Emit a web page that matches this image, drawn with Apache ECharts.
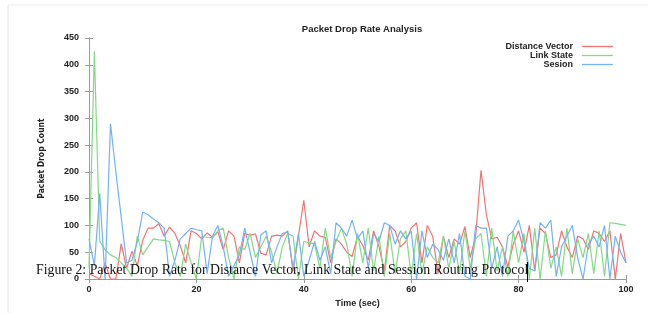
<!DOCTYPE html>
<html>
<head>
<meta charset="utf-8">
<script src="https://cdn.jsdelivr.net/npm/echarts@6/dist/echarts.min.js"></script>
<style>
  html, body { margin: 0; padding: 0; background: #fff; }
  #main { width: 648px; height: 313px; }
</style>
</head>
<body>
<div id="main"></div>
<script>
// values, one per second (0..100)
var distanceVector = [
  10, 5, 0, 30, 0, 0, 66, 20, 52, 25,
  72, 95, 95, 103, 80, 97, 85, 62, 30, 90,
  85, 75, 86, 78, 88, 55, 90, 80, 30, 85,
  82, 84, 48, 45, 80, 82, 80, 90, 15, 80,
  147, 60, 90, 80, 78, 30, 75, 65, 50, 42,
  80, 62, 35, 90, 60, 15, 100, 90, 60, 70,
  95, 105, 30, 100, 80, 10, 80, 40, 75, 65,
  98, 40, 80, 203, 120, 75, 78, 60, 22, 65,
  90, 50, 100, 15, 95, 85, 40, 45, 90, 60,
  40, 80, 75, 55, 90, 85, 70, 90, 0, 85,
  30
]
var linkState = [
  20, 425, 70, 55, 45, 40, 30, 20, 5, 80,
  45, 60, 75, 73, 72, 70, 30, 5, 65, 30,
  0, 80, 78, 77, 90, 95, 40, 0, 60, 55,
  85, 40, 60, 80, 50, 10, 60, 85, 80, 0,
  70, 68, 65, 20, 95, 40, 70, 95, 65, 5,
  85, 30, 95, 15, 80, 5, 85, 10, 75, 90,
  5, 85, 10, 60, 40, 30, 80, 20, 70, 10,
  90, 20, 75, 85, 5, 95, 15, 60, 5, 90,
  30, 85, 0, 95, 0, 90, 20, 60, 5, 95,
  10, 75, 40, 85, 10, 90, 5, 105, 104, 102,
  100
]
var sesion = [
  75, 25, 160, 0, 290, 200, 115, 30, 35, 70,
  125, 120, 112, 105, 95, 5, 35, 75, 85, 95,
  92, 90, 10, 80, 100, 60, 5, 25, 45, 95,
  50, 5, 82, 90, 30, 60, 85, 88, 20, 85,
  5, 35, 70, 35, 60, 10, 105, 95, 80, 110,
  75, 90, 20, 85, 70, 105, 100, 65, 90, 75,
  90, 0, 90, 40, 65, 55, 35, 75, 30, 85,
  5, 0, 100, 95, 95, 20, 60, 5, 80, 90,
  110, 70, 20, 15, 105, 95, 110, 5, 60, 80,
  100, 40, 0, 65, 80, 60, 100, 0, 80, 50,
  30
]
var seriesNames = ['Distance Vector', 'Link State', 'Sesion']
var seriesColors = ['#f47272', '#84d984', '#72b2f7']

function pairs (arr) {
  return arr.map(function (v, i) { return [i, v] })
}

var chart = echarts.init(document.getElementById('main'))

var axisBase = {
  type: 'value',
  axisLine: { show: true, lineStyle: { color: '#9a9a9a', width: 1 } },
  axisTick: { show: true, inside: true, length: 4, lineStyle: { color: '#9a9a9a' } },
  splitLine: { show: false },
  axisLabel: { color: '#222', fontFamily: 'Liberation Sans', fontWeight: 'bold', fontSize: 9 }
}

var option = {
  animation: false,
  backgroundColor: '#fff',
  title: {
    text: 'Packet Drop Rate Analysis',
    left: 357,
    textAlign: 'center',
    top: 19,
    textStyle: { fontFamily: 'Liberation Sans', fontWeight: 'bold', fontSize: 9.5, color: '#222' }
  },
  legend: {
    orient: 'vertical',
    right: 30,
    top: 37,
    align: 'right',
    itemGap: 0,
    itemWidth: 31,
    itemHeight: 1.3,
    icon: 'rect',
    textStyle: { fontFamily: 'Liberation Sans', fontWeight: 'bold', fontSize: 9, color: '#222', padding: [0, 4, 0, 0], lineHeight: 8.6 },
    data: seriesNames
  },
  grid: { left: 89, right: 22, top: 38, bottom: 33, containLabel: false },
  xAxis: [
    Object.assign({}, axisBase, {
      min: 0, max: 100, interval: 20,
      name: 'Time (sec)', nameLocation: 'middle', nameGap: 20,
      nameTextStyle: { fontFamily: 'Liberation Sans', fontWeight: 'bold', fontSize: 9, color: '#222' },
      axisLabel: Object.assign({}, axisBase.axisLabel, { margin: 6 })
    }),
    Object.assign({}, axisBase, {
      position: 'top', min: 0, max: 100, interval: 20,
      axisLabel: { show: false }
    })
  ],
  yAxis: [
    Object.assign({}, axisBase, {
      min: 0, max: 450, interval: 50,
      name: 'Packet Drop Count', nameLocation: 'middle', nameGap: 43,
      nameTextStyle: { fontFamily: '"DejaVu Sans Condensed", "Liberation Sans"', fontWeight: 'bold', fontSize: 8.5, color: '#222' },
      axisLabel: Object.assign({}, axisBase.axisLabel, { margin: 10 })
    }),
    Object.assign({}, axisBase, {
      position: 'right', min: 0, max: 450, interval: 50,
      axisLabel: { show: false }
    })
  ],
  series: [
    { name: seriesNames[0], type: 'line', data: pairs(distanceVector) },
    { name: seriesNames[1], type: 'line', data: pairs(linkState) },
    { name: seriesNames[2], type: 'line', data: pairs(sesion) }
  ].map(function (s, i) {
    s.showSymbol = false
    s.symbol = 'none'
    s.color = seriesColors[i]
    s.lineStyle = { width: 1.2, color: seriesColors[i] }
    return s
  }),
  graphic: [
    { type: 'line', shape: { x1: 8, y1: 5, x2: 8, y2: 313 }, style: { stroke: '#e4e4e4', lineWidth: 1 } },
    { type: 'line', shape: { x1: 8, y1: 5, x2: 648, y2: 5 }, style: { stroke: '#eeeeee', lineWidth: 1 } },
    {
      type: 'text', left: 36, top: 263, z: 100,
      style: {
        text: 'Figure 2: Packet Drop Rate for Distance Vector, Link State and Session Routing Protocol',
        font: '13.8px "Liberation Serif"', fill: '#111'
      }
    },
    { type: 'line', z: 100, shape: { x1: 527.5, y1: 262, x2: 527.5, y2: 282 }, style: { stroke: '#000', lineWidth: 1 } }
  ]
}

chart.setOption(option)
</script>
</body>
</html>
